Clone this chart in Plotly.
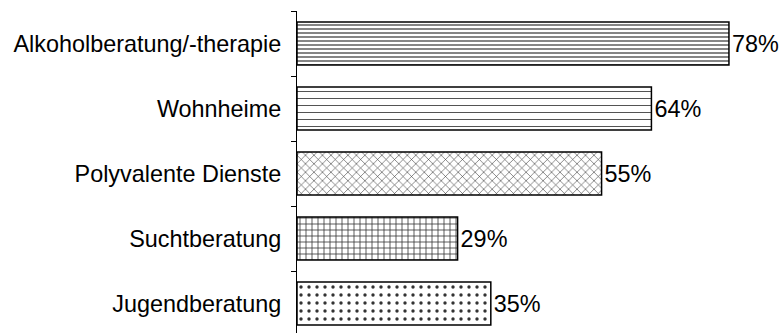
import plotly.graph_objects as go

# Einrichtungstypen und Anteile (%)
categories = [
    "Alkoholberatung/-therapie",
    "Wohnheime",
    "Polyvalente Dienste",
    "Suchtberatung",
    "Jugendberatung",
]
values = [78, 64, 55, 29, 35]
value_labels = ["78%", "64%", "55%", "29%", "35%"]

# Schraffur je Balken
pattern_shapes = ["-", "-", "x", "+", "."]
pattern_sizes = [4, 7, 6, 6, 8]
pattern_solidity = [0.3, 0.12, 0.18, 0.25, 0.14]

FONT = "Liberation Sans, Arial, sans-serif"
FONT_SIZE = 23.4

fig = go.Figure(
    go.Bar(
        x=values,
        y=categories,
        orientation="h",
        width=0.66,
        text=value_labels,
        textposition="outside",
        cliponaxis=False,
        textfont=dict(family=FONT, size=FONT_SIZE, color="black"),
        marker=dict(
            color="white",
            line=dict(color="black", width=1.5),
            pattern=dict(
                shape=pattern_shapes,
                size=pattern_sizes,
                solidity=pattern_solidity,
                fgcolor="#333333",
                bgcolor="white",
                fillmode="replace",
            ),
        ),
    )
)

fig.update_layout(
    width=782,
    height=333,
    margin=dict(l=297, r=0, t=11, b=0),
    paper_bgcolor="white",
    plot_bgcolor="white",
    showlegend=False,
    font=dict(family=FONT, size=FONT_SIZE, color="black"),
    xaxis=dict(
        range=[0, 87.58],
        visible=False,
        showgrid=False,
        zeroline=False,
    ),
    yaxis=dict(
        type="category",
        categoryorder="array",
        categoryarray=categories,
        range=[4.4538, -0.5],
        showline=True,
        linecolor="black",
        linewidth=1,
        ticks="outside",
        tickson="boundaries",
        ticklen=5,
        tickcolor="black",
        tickwidth=1,
        ticklabelstandoff=10,
        showgrid=False,
        zeroline=False,
        tickfont=dict(family=FONT, size=FONT_SIZE, color="black"),
    ),
)

fig.write_html("out.html")
